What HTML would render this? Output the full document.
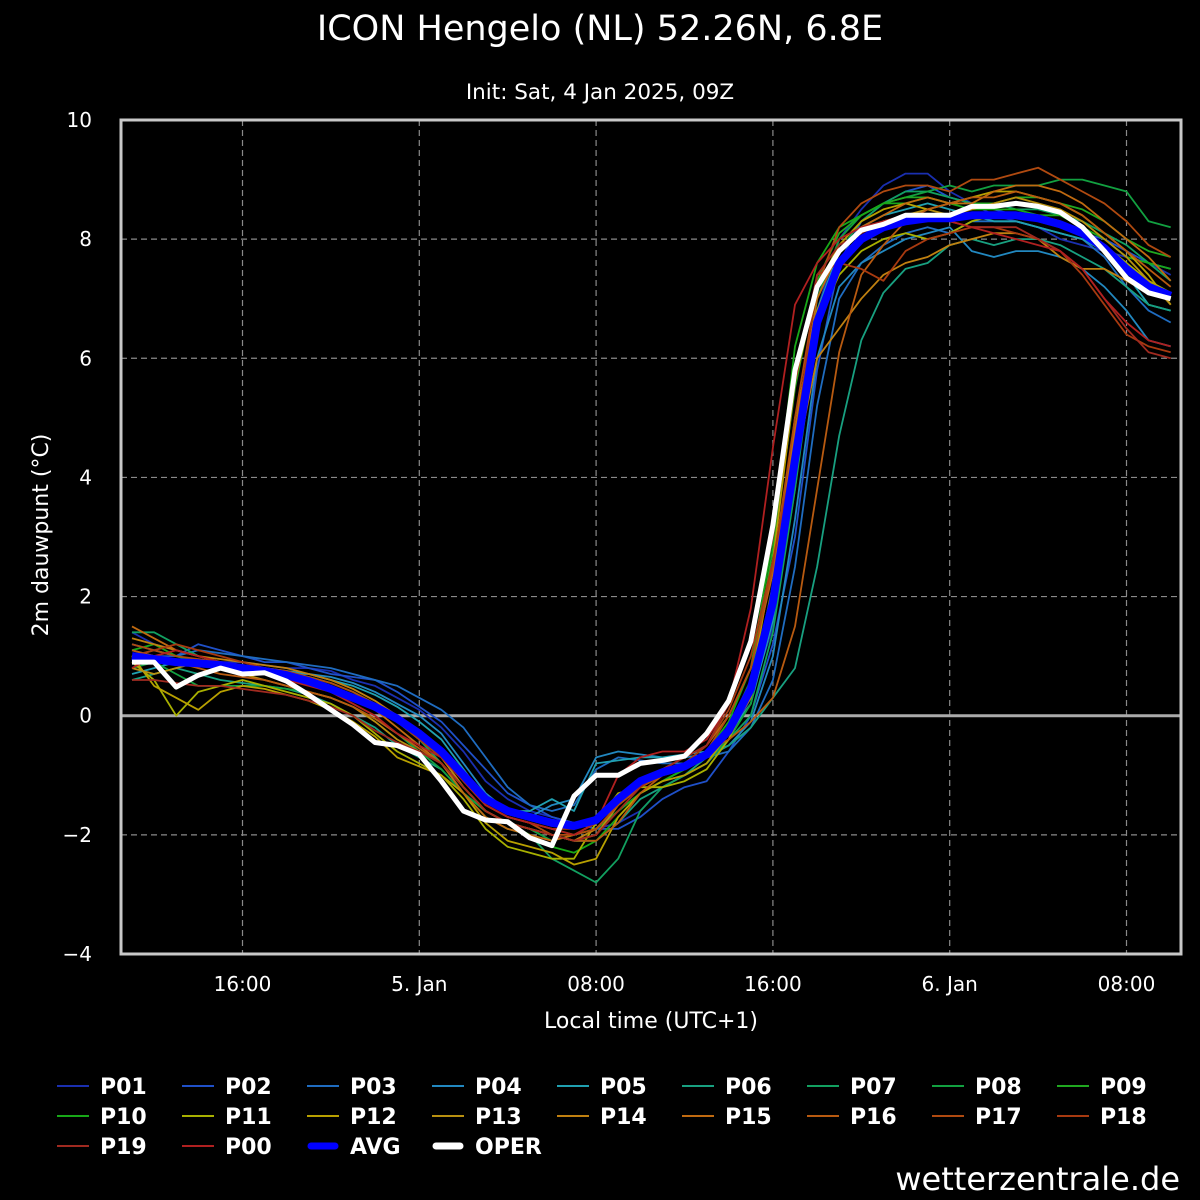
<!DOCTYPE html>
<html><head><meta charset="utf-8"><style>
html,body{margin:0;padding:0;background:#000;}
svg{display:block;font-family:"DejaVu Sans","Liberation Sans",sans-serif;}
</style></head><body>
<svg id="chart" width="1200" height="1200" viewBox="0 0 1200 1200">
<rect width="1200" height="1200" fill="#000"/>
<text x="600" y="40" fill="#fff" font-size="35" text-anchor="middle">ICON Hengelo (NL) 52.26N, 6.8E</text>
<text x="600" y="99" fill="#fff" font-size="21.5" text-anchor="middle">Init: Sat, 4 Jan 2025, 09Z</text>
<text transform="translate(48,535) rotate(-90)" fill="#fff" font-size="22" text-anchor="middle">2m dauwpunt (°C)</text>
<text x="651" y="1028" fill="#fff" font-size="22" text-anchor="middle">Local time (UTC+1)</text>
<text x="1180" y="1190" fill="#fff" font-size="32" text-anchor="end">wetterzentrale.de</text>
<g id="grid"></g><g id="series"></g><g id="axes"></g><g id="legend"></g>
</svg>
<script>
const yTicks=[-4,-2,0,2,4,6,8,10];
const xTickHours=[5,13,21,29,37,45];
const xTickLabels=["16:00","5. Jan","08:00","16:00","6. Jan","08:00"];
const names=["P01","P02","P03","P04","P05","P06","P07","P08","P09","P10","P11","P12","P13","P14","P15","P16","P17","P18","P19","P00"];
const colors=["#1a2fb0","#1f50c8","#1f6cc0","#2288c0","#20a0b0","#18a080","#12a060","#12a040","#20a820","#18a818","#a8b000","#b8a000","#b89010","#c08010","#c06a10","#b85a10","#b04a10","#a83a10","#a02a20","#b02020"];
const P01=[1.4,1.2,1.1,1.0,0.9,0.9,0.85,0.8,0.8,0.75,0.6,0.5,0.3,0.1,-0.2,-0.6,-1.1,-1.4,-1.6,-1.7,-1.8,-1.9,-1.8,-1.6,-1.2,-1.0,-0.8,-0.4,0.3,1.5,3.8,6.8,8.0,8.5,8.9,9.1,9.1,8.8,8.6,8.4,8.3,8.2,8.0,7.9,7.8,7.7,7.6,7.4];
const P02=[1.1,1.0,1.0,1.2,1.1,1.0,0.9,0.9,0.8,0.7,0.65,0.6,0.4,0.15,-0.1,-0.5,-0.9,-1.3,-1.5,-1.7,-1.8,-1.9,-1.9,-1.7,-1.4,-1.2,-1.1,-0.6,0.0,1.2,3.0,5.8,7.6,8.3,8.6,8.8,8.9,8.7,8.6,8.5,8.4,8.3,8.2,8.1,8.0,7.8,7.6,7.5];
const P03=[1.2,1.1,1.0,1.1,1.05,1.0,0.95,0.9,0.85,0.8,0.7,0.6,0.5,0.3,0.1,-0.2,-0.7,-1.2,-1.5,-1.6,-1.5,-0.9,-0.7,-0.75,-0.8,-0.8,-0.7,-0.6,-0.2,0.6,2.5,5.2,7.0,7.6,7.9,8.1,8.2,8.1,8.3,8.3,8.3,8.2,8.1,8.0,7.7,7.2,6.8,6.6];
const P04=[0.9,1.0,0.9,0.9,0.8,0.8,0.75,0.7,0.7,0.65,0.55,0.4,0.2,0.0,-0.3,-0.8,-1.3,-1.6,-1.7,-1.5,-1.4,-0.7,-0.6,-0.65,-0.7,-0.7,-0.65,-0.5,-0.1,1.0,3.3,6.0,7.2,7.6,7.8,8.0,8.1,8.2,7.8,7.7,7.8,7.8,7.7,7.5,7.2,6.8,6.3,6.2];
const P05=[0.7,0.8,0.9,0.9,0.85,0.8,0.8,0.75,0.7,0.6,0.5,0.35,0.15,-0.1,-0.4,-0.9,-1.4,-1.6,-1.6,-1.4,-1.6,-0.8,-0.75,-0.7,-0.7,-0.65,-0.6,-0.3,0.2,1.6,4.2,6.8,7.8,8.2,8.4,8.5,8.6,8.5,8.4,8.3,8.3,8.2,8.1,8.0,7.8,7.4,6.9,6.8];
const P06=[0.6,0.7,0.8,0.7,0.6,0.55,0.5,0.45,0.35,0.2,0.0,-0.2,-0.5,-0.7,-0.9,-1.3,-1.6,-1.8,-1.9,-2.0,-2.1,-2.1,-1.8,-1.4,-1.2,-1.0,-0.7,-0.5,-0.2,0.3,0.8,2.5,4.7,6.3,7.1,7.5,7.6,7.9,8.0,7.9,8.0,8.0,7.9,7.7,7.5,7.2,6.9,6.8];
const P07=[1.4,1.4,1.2,1.0,0.9,0.8,0.75,0.7,0.6,0.45,0.3,0.1,-0.1,-0.4,-0.8,-1.3,-1.7,-1.9,-2.0,-2.4,-2.6,-2.8,-2.4,-1.6,-1.2,-1.0,-0.8,-0.4,0.0,1.4,3.8,6.5,7.8,8.3,8.6,8.8,8.8,8.7,8.6,8.6,8.5,8.5,8.4,8.3,8.1,7.9,7.6,7.3];
const P08=[0.8,0.9,0.7,0.5,0.5,0.5,0.5,0.45,0.4,0.3,0.15,-0.05,-0.3,-0.6,-0.9,-1.3,-1.6,-1.8,-1.9,-2.1,-2.0,-1.9,-1.6,-1.3,-1.1,-0.9,-0.7,-0.4,0.2,1.8,4.5,7.0,8.0,8.4,8.6,8.7,8.8,8.9,8.8,8.9,8.9,8.9,9.0,9.0,8.9,8.8,8.3,8.2];
const P09=[1.0,1.1,1.0,0.9,0.8,0.8,0.75,0.7,0.65,0.55,0.4,0.2,0.0,-0.3,-0.6,-1.1,-1.5,-1.7,-1.8,-1.9,-2.0,-1.9,-1.6,-1.3,-1.1,-0.9,-0.7,-0.2,0.6,2.8,5.5,7.3,8.1,8.4,8.6,8.7,8.7,8.6,8.6,8.6,8.7,8.7,8.6,8.5,8.3,8.0,7.8,7.7];
const P10=[1.1,1.2,1.0,0.9,0.8,0.75,0.7,0.65,0.6,0.5,0.35,0.15,-0.1,-0.4,-0.7,-1.2,-1.6,-1.8,-2.0,-2.2,-2.3,-2.1,-1.7,-1.3,-1.1,-0.9,-0.6,-0.1,0.8,3.0,6.2,7.6,8.2,8.4,8.6,8.6,8.7,8.6,8.5,8.5,8.5,8.4,8.4,8.2,8.0,7.7,7.6,7.5];
const P11=[0.9,0.6,0.0,0.4,0.5,0.6,0.5,0.4,0.3,0.2,0.0,-0.3,-0.6,-0.8,-1.0,-1.4,-1.9,-2.2,-2.3,-2.4,-2.4,-1.8,-1.3,-1.2,-1.2,-1.1,-0.9,-0.4,0.4,2.2,5.0,6.6,7.4,7.8,8.0,8.1,8.0,8.1,8.3,8.4,8.4,8.4,8.3,8.1,7.9,7.6,7.3,7.1];
const P12=[1.0,0.5,0.3,0.1,0.4,0.5,0.45,0.35,0.25,0.1,-0.1,-0.35,-0.7,-0.85,-1.0,-1.3,-1.8,-2.1,-2.2,-2.3,-2.5,-2.4,-1.7,-1.3,-1.1,-1.0,-0.8,-0.3,0.5,2.6,5.6,7.2,7.9,8.3,8.5,8.6,8.5,8.6,8.7,8.8,8.8,8.7,8.6,8.4,8.1,7.8,7.4,6.9];
const P13=[0.8,0.7,0.8,0.9,0.8,0.7,0.6,0.5,0.4,0.3,0.15,-0.1,-0.4,-0.6,-0.8,-1.2,-1.6,-1.8,-1.9,-2.0,-2.1,-2.0,-1.5,-1.2,-1.0,-0.9,-0.7,-0.3,0.4,2.0,4.8,6.8,7.6,8.0,8.3,8.4,8.5,8.4,8.5,8.6,8.7,8.6,8.5,8.3,8.0,7.7,7.3,6.9];
const P14=[1.3,1.2,1.1,1.0,0.95,0.9,0.85,0.8,0.7,0.6,0.45,0.25,0.0,-0.3,-0.7,-1.2,-1.6,-1.8,-1.9,-2.0,-2.1,-1.9,-1.5,-1.2,-1.0,-0.9,-0.7,-0.3,0.3,1.8,4.2,6.0,6.5,7.0,7.4,7.6,7.7,7.9,8.0,8.1,8.1,8.0,7.7,7.5,7.5,7.3,7.1,7.0];
const P15=[1.5,1.3,1.1,1.0,0.9,0.85,0.8,0.7,0.6,0.5,0.3,0.1,-0.2,-0.5,-0.8,-1.3,-1.7,-1.9,-2.0,-2.1,-2.0,-1.8,-1.5,-1.1,-0.9,-0.7,-0.5,0.0,0.8,2.4,4.8,7.0,7.8,8.2,8.4,8.6,8.7,8.6,8.6,8.8,8.9,8.9,8.8,8.6,8.3,8.0,7.7,7.3];
const P16=[1.1,1.0,0.9,0.8,0.7,0.65,0.6,0.5,0.4,0.3,0.15,-0.05,-0.3,-0.55,-0.8,-1.2,-1.6,-1.8,-1.9,-2.0,-2.1,-2.1,-1.8,-1.3,-1.0,-0.8,-0.6,-0.4,-0.1,0.3,1.5,3.8,6.1,7.4,7.9,8.3,8.5,8.6,8.7,8.7,8.8,8.7,8.6,8.4,8.1,7.8,7.5,7.2];
const P17=[1.2,1.1,1.0,0.95,0.9,0.85,0.8,0.75,0.65,0.55,0.4,0.2,-0.05,-0.3,-0.6,-1.0,-1.5,-1.7,-1.8,-2.0,-2.0,-1.9,-1.5,-1.2,-1.0,-0.8,-0.6,0.0,0.8,2.5,5.0,7.2,8.2,8.6,8.8,8.9,8.9,8.8,9.0,9.0,9.1,9.2,9.0,8.8,8.6,8.3,7.9,7.7];
const P18=[1.0,1.1,1.2,1.1,1.0,0.9,0.8,0.7,0.6,0.5,0.35,0.15,-0.1,-0.4,-0.7,-1.1,-1.5,-1.7,-1.8,-1.9,-1.9,-1.8,-1.4,-1.1,-0.9,-0.8,-0.5,0.1,1.0,2.6,4.5,7.4,7.6,7.5,7.3,7.8,8.0,8.1,8.2,8.2,8.1,8.0,7.8,7.4,6.9,6.4,6.2,6.1];
const P19=[0.6,0.6,0.55,0.5,0.5,0.45,0.4,0.35,0.25,0.15,0.0,-0.25,-0.45,-0.6,-0.8,-1.2,-1.6,-1.8,-1.9,-2.0,-2.1,-2.0,-1.6,-1.2,-0.9,-0.7,-0.5,0.2,1.3,3.0,5.6,7.4,7.9,8.1,8.3,8.3,8.4,8.3,8.2,8.2,8.2,8.0,7.8,7.5,7.0,6.5,6.1,6.0];
const P00=[0.8,1.0,1.1,1.0,0.9,0.8,0.7,0.6,0.5,0.4,0.2,0.0,-0.3,-0.5,-0.7,-1.1,-1.5,-1.7,-1.8,-1.9,-2.0,-1.8,-1.0,-0.7,-0.6,-0.6,-0.4,0.2,1.8,4.5,6.9,7.6,8.0,8.2,8.3,8.4,8.4,8.3,8.2,8.1,8.0,7.9,7.8,7.5,7.0,6.6,6.3,6.2];
const AVG=[1.0,0.95,0.9,0.88,0.85,0.8,0.75,0.68,0.58,0.45,0.3,0.15,-0.05,-0.3,-0.6,-1.0,-1.4,-1.6,-1.7,-1.8,-1.85,-1.75,-1.4,-1.1,-0.95,-0.85,-0.65,-0.25,0.45,1.9,4.3,6.6,7.6,8.0,8.2,8.3,8.35,8.35,8.4,8.4,8.4,8.35,8.25,8.1,7.85,7.5,7.2,7.05];
const OPER=[0.9,0.9,0.48,0.68,0.8,0.7,0.72,0.58,0.35,0.1,-0.15,-0.45,-0.5,-0.65,-1.1,-1.6,-1.75,-1.78,-2.05,-2.18,-1.35,-1.0,-1.0,-0.8,-0.75,-0.68,-0.3,0.25,1.25,3.2,5.8,7.2,7.8,8.15,8.25,8.4,8.4,8.4,8.55,8.55,8.6,8.55,8.45,8.2,7.8,7.35,7.1,7.0];
const members=[P01,P02,P03,P04,P05,P06,P07,P08,P09,P10,P11,P12,P13,P14,P15,P16,P17,P18,P19,P00];

const NS="http://www.w3.org/2000/svg";
const L=121,R=1181,T=120,B=954,yMin=-4,yMax=10;
const x0=132,hourPx=22.1;
function xs(h){return x0+h*hourPx;}
function ys(v){return B-(v-yMin)/(yMax-yMin)*(B-T);}
function mk(tag,attrs,parent){const e=document.createElementNS(NS,tag);for(const k in attrs)e.setAttribute(k,attrs[k]);parent.appendChild(e);return e;}
const grid=document.getElementById('grid'),series=document.getElementById('series'),axes=document.getElementById('axes'),legend=document.getElementById('legend');

yTicks.forEach(v=>{
  const y=ys(v);
  if(v>yMin&&v<yMax&&v!==0){const g=mk('line',{x1:L,x2:R,y1:y,y2:y,stroke:'#8a8a8a','stroke-width':1.2,'stroke-dasharray':'6,4'},grid);
  
  }
  const t=mk('text',{x:92,y:y+7,fill:'#fff','font-size':20,'text-anchor':'end'},axes);
  t.textContent=(v<0?'\u2212'+(-v):v);
  
  
});
xTickHours.forEach((h,i)=>{
  const x=xs(h);
  const g=mk('line',{x1:x,x2:x,y1:T,y2:B,stroke:'#8a8a8a','stroke-width':1.2,'stroke-dasharray':'6,4'},grid);
  
  
  const t=mk('text',{x:x,y:991,fill:'#fff','font-size':20,'text-anchor':'middle'},axes);
  t.textContent=xTickLabels[i];
  
  
});
const z=mk('line',{x1:L,x2:R,y1:ys(0),y2:ys(0),stroke:'#aaa','stroke-width':3},grid);



function pts(arr){return arr.map((v,i)=>xs(i).toFixed(1)+','+ys(v).toFixed(1)).join(' ');}
members.forEach((arr,i)=>{
  const p=mk('polyline',{points:pts(arr),fill:'none',stroke:colors[i],'stroke-width':1.8,'stroke-linejoin':'round'},series);
  
  
});
const a=mk('polyline',{points:pts(AVG),fill:'none',stroke:'#0000ff','stroke-width':8,'stroke-linejoin':'round'},series);


const o=mk('polyline',{points:pts(OPER),fill:'none',stroke:'#fff','stroke-width':5,'stroke-linejoin':'round'},series);



const fr=mk('rect',{x:L,y:T,width:R-L,height:B-T,fill:'none',stroke:'#c8c8c8','stroke-width':3},axes);



const legNames=names.concat(['AVG','OPER']);
const legColors=colors.concat(['#0000ff','#ffffff']);
legNames.forEach((n,i)=>{
  const col=i%9,row=Math.floor(i/9);
  const x=57+col*125,y=1086+row*30;
  const g=mk('g',{},legend);
  
  
  const thick=n==='AVG'||n==='OPER';
  mk('line',{x1:thick?x+4:x,x2:thick?x+28:x+32,y1:y,y2:y,stroke:legColors[i],'stroke-width':thick?7:2,'stroke-linecap':thick?'round':'butt'},g);
  const t=mk('text',{x:x+43,y:y+8,fill:'#fff','font-size':22,'font-weight':'bold'},g);
  t.textContent=n;
});
</script>
</body></html>
